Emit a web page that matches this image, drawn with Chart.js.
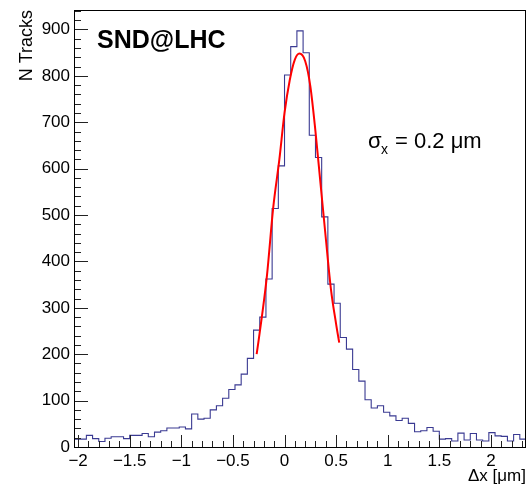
<!DOCTYPE html>
<html>
<head>
<meta charset="utf-8">
<script src="https://cdn.jsdelivr.net/npm/chart.js@4.4.0/dist/chart.umd.min.js"></script>
<style>
  html, body { margin: 0; padding: 0; background: #fff; }
  #wrap { width: 527px; height: 485px; }
</style>
</head>
<body>
<div id="wrap"><canvas id="chart" width="527" height="485"></canvas></div>
<script>
// histogram binning (delta x in um)
const binLow = -2.04;
const binWidth = 0.06;
// N tracks per bin
const counts = [
  17, 17, 25, 18, 12, 19, 22, 22, 18, 25,
  25, 29, 22, 32, 35, 41, 41, 43, 39, 71,
  60, 62, 80, 89, 105, 124, 134, 157, 191, 252,
  280, 362, 514, 606, 802, 863, 897, 850, 672, 624,
  496, 351, 310, 236, 211, 167, 142, 102, 84, 89,
  75, 67, 57, 62, 51, 33, 35, 42, 34, 17,
  18, 13, 30, 15, 29, 15, 13, 31, 24, 23,
  13, 27, 17
];
// red gaussian fit
const fitX = [-0.27, -0.22, -0.17, -0.11, -0.05, 0.0, 0.05, 0.1, 0.145, 0.2, 0.25, 0.3, 0.35, 0.4, 0.45, 0.5, 0.53];
const fitY = [200, 280, 370, 515, 620, 720, 790, 835, 848, 832, 778, 680, 565, 450, 340, 265, 225];

const xTickValues = [-2, -1.5, -1, -0.5, 0, 0.5, 1, 1.5, 2];
const yTickValues = [0, 100, 200, 300, 400, 500, 600, 700, 800, 900];
const xMax = 2.34;
const yMax = 942;

const FONT = "'Liberation Sans', Arial, Helvetica, sans-serif";

function fmt(v) { // root style labels
  if (v < 0) return '\u2212' + String(Math.abs(v));
  return String(v);
}

// histogram as step line through bin edges
let histPts = counts.map((c, i) => ({x: binLow + i * binWidth, y: c}));
histPts.push({x: binLow + counts.length * binWidth, y: counts[counts.length - 1]});
let fitPts = fitX.map((x, i) => ({x: x, y: fitY[i]}));

const rootFrame = {
  id: 'rootFrame',
  afterDatasetsDraw(chart) {
    const ctx = chart.ctx;
    const a = chart.chartArea;
    const xs = chart.scales.x, ys = chart.scales.y;
    ctx.save();
    // minor + major ticks inside frame
    ctx.strokeStyle = '#222';
    ctx.lineWidth = 1;
    ctx.beginPath();
    for (let v = -2.0; v <= xMax + 1e-9; v += 0.1) {
      const px = Math.round(xs.getPixelForValue(v)) + 0.5;
      const major = Math.abs(v * 2 - Math.round(v * 2)) < 1e-6;
      ctx.moveTo(px, a.bottom);
      ctx.lineTo(px, a.bottom - (major ? 12 : 6));
    }
    for (let v = 0; v <= yMax; v += 20) {
      const py = Math.round(ys.getPixelForValue(v)) + 0.5;
      const major = v % 100 === 0;
      ctx.moveTo(a.left, py);
      ctx.lineTo(a.left + (major ? 14 : 7), py);
    }
    ctx.stroke();
    // frame
    ctx.strokeStyle = '#000';
    ctx.strokeRect(a.left + 0.5, a.top + 0.5, a.right - a.left - 1, a.bottom - a.top);
    // labels
    ctx.fillStyle = '#000';
    ctx.font = 'bold 25px ' + FONT;
    ctx.textBaseline = 'alphabetic';
    ctx.fillText('SND@LHC', 97, 48);
    ctx.font = '22px ' + FONT;
    ctx.fillText('\u03c3', 368, 148);
    ctx.font = '14px ' + FONT;
    ctx.fillText('x', 381, 154);
    ctx.font = '22px ' + FONT;
    ctx.fillText('= 0.2 \u03bcm', 395, 148);
    ctx.restore();
  }
};

new Chart(document.getElementById('chart'), {
  type: 'line',
  data: {
    datasets: [
      {
        label: 'fit',
        data: fitPts,
        borderColor: '#ff0000',
        borderWidth: 2,
        pointRadius: 0,
        cubicInterpolationMode: 'monotone',
        order: 0
      },
      {
        label: 'hist',
        data: histPts,
        borderColor: '#3a3a92',
        borderWidth: 1.1,
        pointRadius: 0,
        stepped: 'before',
        order: 1
      }
    ]
  },
  options: {
    responsive: false,
    devicePixelRatio: 1,
    animation: false,
    layout: { padding: { left: 0, top: 10, right: 1, bottom: 0 } },
    plugins: { legend: { display: false }, tooltip: { enabled: false } },
    scales: {
      x: {
        type: 'linear',
        min: binLow,
        max: xMax,
        grid: { display: false, drawTicks: false },
        border: { display: false },
        afterBuildTicks: s => { s.ticks = xTickValues.map(v => ({value: v})); },
        afterFit: s => { s.height = 38; s.paddingLeft = 0; s.paddingRight = 0; },
        ticks: {
          color: '#000',
          padding: 4,
          maxRotation: 0,
          autoSkip: false,
          font: { family: FONT, size: 17 },
          callback: v => fmt(v)
        },
        title: {
          display: true,
          text: '\u0394x [\u03bcm]',
          align: 'end',
          color: '#000',
          font: { family: FONT, size: 17, lineHeight: 1 },
          padding: { top: 0, bottom: 0 }
        }
      },
      y: {
        type: 'linear',
        min: 0,
        max: yMax,
        grid: { display: false, drawTicks: false },
        border: { display: false },
        afterBuildTicks: s => { s.ticks = yTickValues.map(v => ({value: v})); },
        afterFit: s => { s.width = 74; s.paddingTop = 0; s.paddingBottom = 0; },
        ticks: {
          color: '#000',
          padding: 4,
          autoSkip: false,
          font: { family: FONT, size: 17 },
          callback: v => fmt(v)
        },
        title: {
          display: true,
          text: 'N Tracks',
          align: 'end',
          color: '#000',
          font: { family: FONT, size: 18, lineHeight: 1.2 },
          padding: { top: 16, bottom: 0 }
        }
      }
    }
  },
  plugins: [rootFrame]
});
</script>
</body>
</html>
